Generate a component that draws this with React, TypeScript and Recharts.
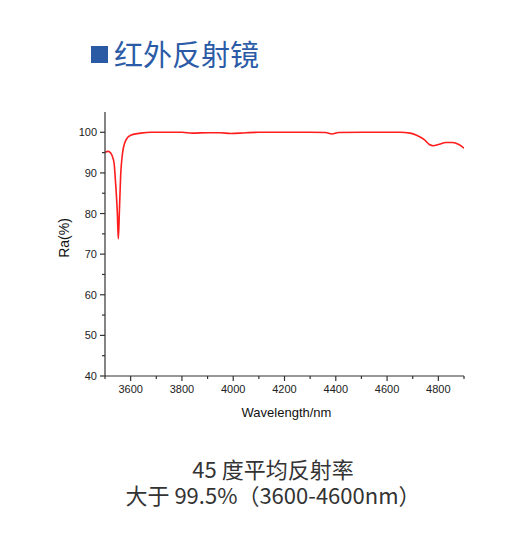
import React from "react"
import { LineChart, Line, XAxis, YAxis } from "recharts"

// wavelength (nm) and reflectance (%)
const wavelengths = [
  3500, 3512, 3522, 3535, 3541, 3548, 3552, 3556, 3561, 3567, 3580, 3600, 3640, 3680,
  3800, 3840, 3900, 3950, 3990, 4050, 4100, 4300, 4360, 4385, 4410, 4500, 4650, 4690,
  4715, 4745, 4765, 4780, 4800, 4830, 4855, 4880, 4900,
]
const reflectance = [
  95.1, 95.3, 94.9, 92.6, 87.8, 80.3, 73.8, 80.3, 89.3, 94.2, 97.9, 99.3, 99.8, 100,
  100, 99.8, 99.9, 99.9, 99.7, 99.9, 100, 100, 99.95, 99.6, 99.95, 100, 100, 99.8,
  99.3, 98.2, 97.0, 96.7, 97.0, 97.5, 97.5, 97.0, 96.1,
]

const xTicks = [3500, 3600, 3700, 3800, 3900, 4000, 4100, 4200, 4300, 4400, 4500, 4600, 4700, 4800, 4900]
const xLabels = [3600, 3800, 4000, 4200, 4400, 4600, 4800]
const yTicks = [40, 45, 50, 55, 60, 65, 70, 75, 80, 85, 90, 95, 100]
const yLabels = [40, 50, 60, 70, 80, 90, 100]

const title = "红外反射镜"
const noteLines = ["45 度平均反射率", "大于 99.5%（3600-4600nm）"]

const data = wavelengths.map((wl, i) => ({ wl, ra: reflectance[i] }))

const axisColor = "#333"
const tickFont = "Arial, 'Liberation Sans', sans-serif"

function XTick(props: any) {
  const { x, y, payload } = props
  const major = xLabels.includes(payload.value)
  return (
    <g>
      <line x1={x} y1={y} x2={x} y2={y + (major ? 5 : 3)} stroke={axisColor} strokeWidth={1.2} />
      {major && (
        <text x={x} y={y + 17} textAnchor="middle" fontSize={11} fill="#222" fontFamily={tickFont}>
          {payload.value}
        </text>
      )}
    </g>
  )
}

function YTick(props: any) {
  const { x, y, payload } = props
  const major = yLabels.includes(payload.value)
  return (
    <g>
      <line x1={x} y1={y} x2={x - (major ? 5 : 3)} y2={y} stroke={axisColor} strokeWidth={1.2} />
      {major && (
        <text x={x - 8} y={y + 4} textAnchor="end" fontSize={11} fill="#222" fontFamily={tickFont}>
          {payload.value}
        </text>
      )}
    </g>
  )
}

function XTitle(props: any) {
  const { viewBox } = props
  return (
    <text x={viewBox.x + viewBox.width / 2 + 2} y={viewBox.y + 41} textAnchor="middle" fontSize={13} fill="#111" fontFamily={tickFont}>
      Wavelength/nm
    </text>
  )
}

function YTitle(props: any) {
  const { viewBox } = props
  const cx = 69
  const cy = viewBox.y + viewBox.height / 2 - 6
  return (
    <text x={cx} y={cy} transform={`rotate(-90 ${cx} ${cy})`} textAnchor="middle" fontSize={14} fill="#111" fontFamily={tickFont}>
      Ra(%)
    </text>
  )
}

export default function App() {
  return (
    <div style={{ position: "relative", width: 524, height: 551, margin: -8, background: "#fff" }}>
      <div style={{ position: "absolute", left: 91, top: 46, width: 17, height: 17, background: "#2b5aa5" }} />
      <div
        style={{
          position: "absolute",
          left: 114,
          top: 33,
          fontSize: 29,
          lineHeight: "40px",
          color: "#2b5ba6",
          fontFamily: "'Noto Sans CJK SC', sans-serif",
        }}
      >
        {title}
      </div>

      <div style={{ position: "absolute", left: 0, top: 0 }}>
        <LineChart width={524} height={551} data={data} margin={{ top: 112, right: 60, bottom: 135, left: 45 }}>
          <XAxis
            dataKey="wl"
            type="number"
            domain={[3500, 4900]}
            ticks={xTicks}
            interval={0}
            height={40}
            tickSize={0}
            tickMargin={0}
            tickLine={false}
            tick={<XTick />}
            stroke={axisColor}
            strokeWidth={1.2}
            allowDataOverflow
            label={<XTitle />}
          />
          <YAxis
            type="number"
            domain={[40, 105]}
            ticks={yTicks}
            interval={0}
            width={60}
            tickSize={0}
            tickMargin={0}
            tickLine={false}
            tick={<YTick />}
            stroke={axisColor}
            strokeWidth={1.2}
            allowDataOverflow
            label={<YTitle />}
          />
          <Line
            type="monotone"
            dataKey="ra"
            stroke="#ff1c1c"
            strokeWidth={1.6}
            dot={false}
            isAnimationActive={false}
          />
        </LineChart>
      </div>

      <div
        style={{
          position: "absolute",
          left: 0,
          width: 546,
          top: 455,
          textAlign: "center",
          fontSize: 22,
          lineHeight: "26px",
          color: "#333",
          fontFamily: "'Noto Sans CJK SC', sans-serif",
        }}
      >
        {noteLines.map((l) => (
          <div key={l}>{l}</div>
        ))}
      </div>
    </div>
  )
}
